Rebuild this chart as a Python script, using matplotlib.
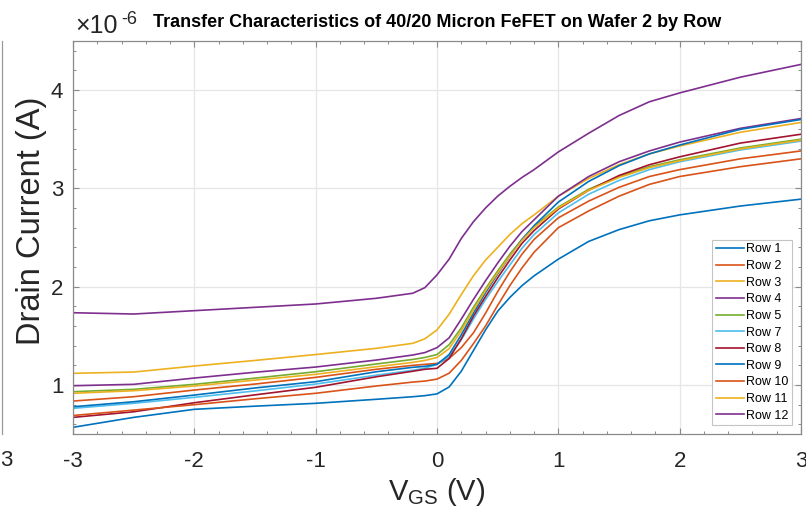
import matplotlib
matplotlib.use("Agg")
import matplotlib.pyplot as plt
from matplotlib.ticker import MultipleLocator, FuncFormatter
from matplotlib.lines import Line2D
import numpy as np

plt.rcParams['font.family'] = ['Liberation Sans', 'DejaVu Sans']
plt.rcParams['mathtext.fontset'] = 'custom'
plt.rcParams['mathtext.rm'] = 'Liberation Sans'
plt.rcParams['mathtext.it'] = 'Liberation Sans:italic'

# gate voltage sweep (V) and drain current per row (x 1e-6 A)
vgs = [-3, -2.5, -2, -1.5, -1, -0.5, -0.2, -0.1, 0, 0.1, 0.2, 0.3, 0.4, 0.5,
       0.6, 0.7, 0.8, 1.0, 1.25, 1.5, 1.75, 2.0, 2.5, 3.0]

row1 = [0.570, 0.671, 0.753, 0.785, 0.814, 0.855, 0.881, 0.892, 0.910, 0.98, 1.14, 1.35,
        1.56, 1.75, 1.89, 2.01, 2.11, 2.28, 2.46, 2.58, 2.67, 2.73, 2.82, 2.89]
row2 = [0.837, 0.881, 0.949, 1.01, 1.078, 1.160, 1.20, 1.21, 1.22, 1.27, 1.38, 1.53,
        1.73, 1.95, 2.15, 2.33, 2.48, 2.70, 2.87, 3.01, 3.12, 3.19, 3.30, 3.38]
row3 = [1.119, 1.132, 1.193, 1.25, 1.31, 1.373, 1.424, 1.47, 1.56, 1.72, 1.92, 2.11,
        2.27, 2.40, 2.53, 2.64, 2.73, 2.92, 3.10, 3.24, 3.35, 3.43, 3.57, 3.67]
row4 = [0.993, 1.007, 1.071, 1.13, 1.183, 1.254, 1.305, 1.33, 1.38, 1.48, 1.67, 1.87,
        2.06, 2.24, 2.41, 2.56, 2.68, 2.92, 3.12, 3.27, 3.38, 3.47, 3.61, 3.71]
row5 = [0.932, 0.956, 1.007, 1.07, 1.135, 1.214, 1.26, 1.28, 1.31, 1.41, 1.58, 1.79,
        1.98, 2.16, 2.33, 2.48, 2.61, 2.81, 2.99, 3.12, 3.22, 3.29, 3.41, 3.50]
row7 = [0.763, 0.814, 0.875, 0.94, 1.010, 1.10, 1.15, 1.17, 1.21, 1.29, 1.46, 1.67,
        1.87, 2.05, 2.22, 2.39, 2.53, 2.75, 2.94, 3.08, 3.19, 3.27, 3.39, 3.48]
row8 = [0.671, 0.728, 0.820, 0.90, 0.977, 1.084, 1.14, 1.16, 1.17, 1.27, 1.47, 1.70,
        1.90, 2.09, 2.27, 2.44, 2.57, 2.79, 2.98, 3.13, 3.24, 3.32, 3.46, 3.55]
row9 = [0.779, 0.830, 0.898, 0.97, 1.034, 1.135, 1.18, 1.19, 1.21, 1.31, 1.51, 1.73,
        1.94, 2.13, 2.31, 2.48, 2.62, 2.86, 3.07, 3.23, 3.35, 3.44, 3.60, 3.70]
row10 = [0.69, 0.745, 0.80, 0.86, 0.916, 0.99, 1.03, 1.04, 1.06, 1.12, 1.25, 1.42,
         1.60, 1.81, 2.01, 2.19, 2.35, 2.60, 2.77, 2.92, 3.04, 3.12, 3.22, 3.30]
row11 = [0.916, 0.942, 0.990, 1.05, 1.109, 1.186, 1.23, 1.25, 1.28, 1.37, 1.55, 1.76,
         1.96, 2.14, 2.31, 2.47, 2.60, 2.80, 2.98, 3.11, 3.21, 3.28, 3.40, 3.49]
row12 = [1.735, 1.722, 1.756, 1.79, 1.824, 1.882, 1.933, 1.99, 2.12, 2.28, 2.49, 2.66,
         2.80, 2.92, 3.02, 3.11, 3.19, 3.37, 3.56, 3.74, 3.88, 3.97, 4.13, 4.26]

labels = ["Row 1", "Row 2", "Row 3", "Row 4", "Row 5", "Row 7", "Row 8", "Row 9",
          "Row 10", "Row 11", "Row 12"]
rows = [row1, row2, row3, row4, row5, row7, row8, row9, row10, row11, row12]

# matlab default line colours, cycled
colors = ["#0072BD", "#D95319", "#EDB120", "#7E2F8E", "#77AC30", "#4DBEEE",
          "#A2142F", "#0072BD", "#D95319", "#EDB120", "#7E2F8E"]

fig = plt.figure(figsize=(8.06, 5.22), dpi=100)
W, H = 806, 522
ax = fig.add_axes([73 / W, (H - 434.2) / H, (801 - 73) / W, (434.2 - 40.8) / H])

for lab, ys, c in zip(labels, rows, colors):
    ax.plot(vgs, np.array(ys) * 1e-6, color=c, lw=1.2, label=lab)

ax.set_xlim(-3, 3)
ax.set_ylim(0.5e-6, 4.5e-6)
ax.xaxis.set_major_locator(MultipleLocator(1))
ax.xaxis.set_minor_locator(MultipleLocator(0.2))
ax.yaxis.set_major_locator(MultipleLocator(1e-6))
ax.yaxis.set_minor_locator(MultipleLocator(0.2e-6))
ax.yaxis.set_major_formatter(FuncFormatter(lambda v, p: "%g" % round(v / 1e-6, 3)))
ax.xaxis.set_major_formatter(FuncFormatter(lambda v, p: "%g" % v))

ax.grid(True, which="major", color="#e6e6e6", lw=0.9)
ax.set_axisbelow(True)
for s in ax.spines.values():
    s.set_color("#8a8a8a")
    s.set_linewidth(0.9)
ax.tick_params(which="both", direction="in", top=True, right=True, colors="#8a8a8a",
               labelcolor="#262626", labelsize=16)
ax.tick_params(which="major", length=4.5, width=0.8)
ax.tick_params(which="minor", length=2.5, width=0.7)
ax.tick_params(axis="x", pad=12)
ax.tick_params(axis="y", pad=7)

ax.set_xlabel(r"V$_{\rm GS}$ (V)", fontsize=21, color="#262626", labelpad=3)
ax.set_ylabel("Drain Current (A)", fontsize=23.5, color="#262626")
ax.yaxis.set_label_coords(-(73 - 47) / (801 - 73), (434.2 - 221) / (434.2 - 40.8))
ax.set_title("Transfer Characteristics of 40/20 Micron FeFET on Wafer 2 by Row",
             fontsize=13, fontweight="bold", pad=10)

fig.text(75 / W, 1 - 33 / H, "\u00d710", fontsize=18, color="#262626", va="baseline")
fig.text(121 / W, 1 - 24 / H, "-6", fontsize=13, color="#262626", va="baseline")

leg = ax.legend(loc="lower right", fontsize=9, frameon=True, fancybox=False,
                edgecolor="#c4c4c4", framealpha=1, handlelength=2.2,
                handletextpad=0.2, labelspacing=0.37, borderpad=0.3,
                borderaxespad=0.7)
leg.get_frame().set_linewidth(0.8)

# edge of the neighbouring panel cut off at the left
fig.add_artist(Line2D([1.5 / W, 1.5 / W], [1 - 40.8 / H, 1 - 434.2 / H],
                      color="#9a9a9a", lw=0.9))
fig.text(0, 1 - 460 / H, "3", fontsize=16, color="#262626", va="center")

fig.savefig("out.png", dpi=100)
